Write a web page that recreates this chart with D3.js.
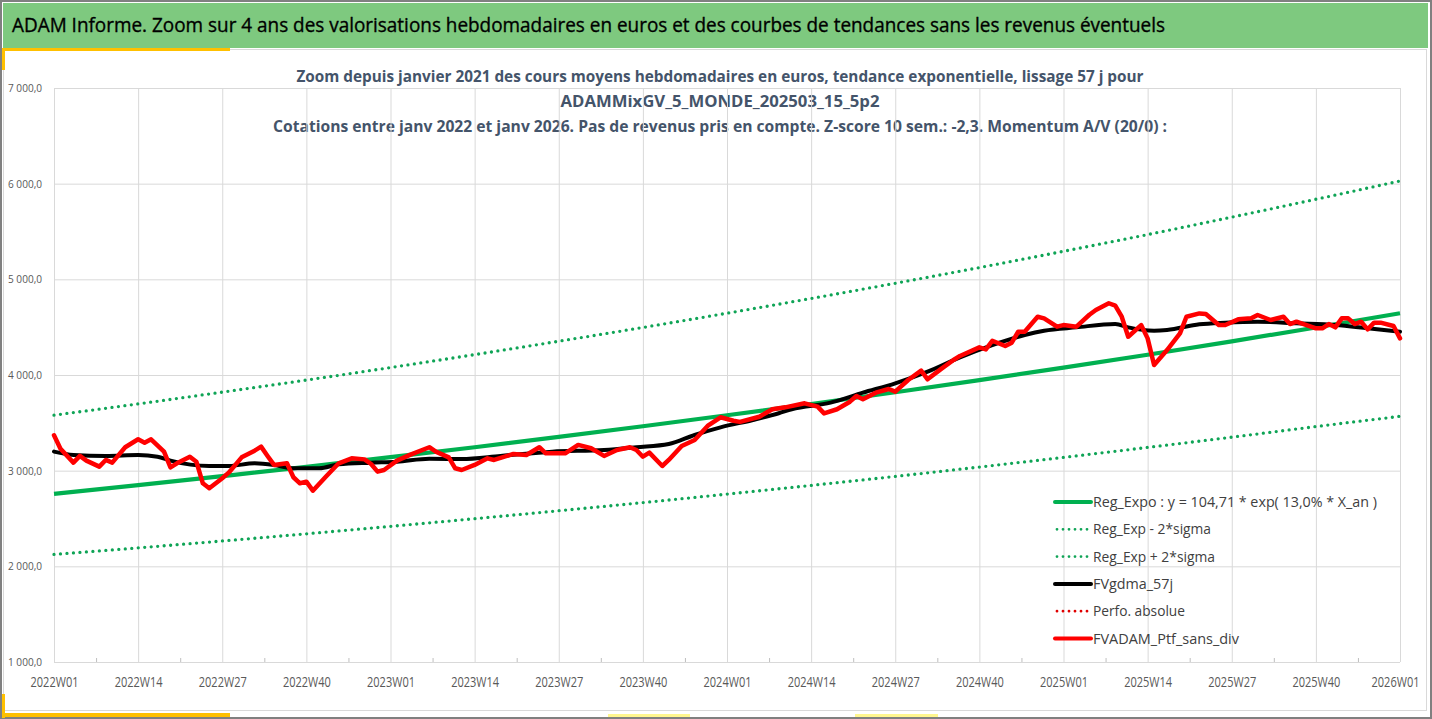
<!DOCTYPE html>
<html lang="fr">
<head>
<meta charset="utf-8">
<title>ADAM Informe</title>
<script src="https://cdn.jsdelivr.net/npm/d3@7"></script>
<style>
  body { margin: 0; background: #fff; }
  svg { display: block; font-family: 'Open Sans', 'Noto Sans', 'Liberation Sans', sans-serif; }
</style>
</head>
<body>
<svg id="chart" width="1432" height="719"></svg>
<script>
const titleText = 'ADAM Informe. Zoom sur 4 ans des valorisations hebdomadaires en euros et des courbes de tendances sans les revenus éventuels';
const subtitleLines = [
  'Zoom depuis janvier 2021 des cours moyens hebdomadaires  en euros, tendance exponentielle, lissage 57 j pour',
  'ADAMMixGV_5_MONDE_202503_15_5p2',
  'Cotations entre janv 2022 et janv 2026. Pas de revenus pris en compte. Z-score 10 sem.: -2,3. Momentum A/V (20/0) :'
];

// semaines depuis 2022W01 (0 .. 208)
const tickWeeks = [0, 13, 26, 39, 52, 65, 78, 91, 104, 117, 130, 143, 156, 169, 182, 195, 208];
const tickLabels = [
  '2022W01', '2022W14', '2022W27', '2022W40',
  '2023W01', '2023W14', '2023W27', '2023W40',
  '2024W01', '2024W14', '2024W27', '2024W40',
  '2025W01', '2025W14', '2025W27', '2025W40',
  '2026W01'
];
const yTicks = [1000, 2000, 3000, 4000, 5000, 6000, 7000];

// tendances lues aux semaines de tickWeeks
const regValues = [2757, 2848, 2943, 3040, 3141, 3245, 3353, 3464, 3579, 3697, 3820, 3946, 4077, 4212, 4352, 4496, 4645];
const lowValues = [2124, 2193, 2265, 2340, 2418, 2498, 2581, 2666, 2755, 2846, 2940, 3038, 3139, 3243, 3350, 3461, 3568];
const highValues = [3580, 3698, 3821, 3947, 4078, 4213, 4353, 4497, 4646, 4800, 4959, 5123, 5293, 5468, 5650, 5837, 6028];

// FVgdma_57j
const gdmaWeeks = [0, 3, 8, 13, 16, 18, 24, 27, 31, 34, 37, 41, 44, 49, 53, 58, 63, 69, 77, 85, 90, 95, 99, 103, 108, 112, 114, 120, 125, 130, 135, 140, 145, 150, 153, 158, 164, 166, 170, 172, 177, 181, 186, 192, 198, 203, 208];
const gdmaValues = [3199, 3164, 3154, 3164, 3146, 3105, 3049, 3049, 3077, 3060, 3025, 3025, 3067, 3084, 3094, 3125, 3122, 3154, 3199, 3216, 3245, 3279, 3373, 3453, 3530, 3600, 3642, 3711, 3815, 3913, 4035, 4185, 4313, 4418, 4463, 4498, 4533, 4498, 4463, 4470, 4530, 4547, 4557, 4540, 4522, 4488, 4452];

// FVADAM_Ptf_sans_div
const ptfWeeks = [0, 1, 3, 4, 5, 7, 8, 9, 11, 13, 14, 15, 17, 18, 19, 21, 22, 23, 24, 26, 27, 29, 31, 32, 33, 34, 36, 37, 38, 39, 40, 42, 44, 46, 48, 49, 50, 51, 53, 55, 58, 59, 61, 62, 63, 65, 67, 68, 71, 73, 75, 76, 79, 81, 83, 85, 87, 89, 90, 91, 92, 94, 95, 97, 99, 101, 103, 105, 106, 109, 111, 113, 116, 118, 119, 121, 123, 124, 125, 127, 129, 130, 132, 134, 135, 137, 139, 140, 143, 144, 145, 147, 148, 149, 150, 152, 153, 155, 156, 158, 160, 161, 163, 164, 165, 166, 168, 169, 170, 172, 174, 175, 177, 178, 180, 181, 183, 185, 186, 188, 190, 191, 192, 195, 196, 197, 198, 199, 200, 201, 202, 203, 204, 205, 207, 208];
const ptfValues = [3370, 3230, 3084, 3154, 3105, 3042, 3112, 3084, 3245, 3328, 3293, 3328, 3199, 3035, 3077, 3146, 3094, 2868, 2816, 2920, 2979, 3139, 3209, 3251, 3154, 3060, 3077, 2931, 2868, 2885, 2791, 2937, 3077, 3129, 3118, 3070, 2990, 3007, 3105, 3165, 3245, 3199, 3139, 3025, 3007, 3060, 3129, 3112, 3175, 3164, 3245, 3181, 3181, 3269, 3234, 3154, 3216, 3245, 3216, 3146, 3189, 3049, 3112, 3258, 3321, 3467, 3558, 3522, 3510, 3564, 3642, 3662, 3704, 3669, 3599, 3642, 3721, 3781, 3746, 3815, 3854, 3826, 3948, 4045, 3955, 4059, 4157, 4199, 4289, 4268, 4358, 4303, 4338, 4452, 4452, 4609, 4592, 4505, 4522, 4505, 4630, 4680, 4750, 4725, 4609, 4400, 4522, 4383, 4104, 4261, 4435, 4609, 4644, 4637, 4522, 4522, 4582, 4592, 4627, 4575, 4609, 4533, 4557, 4488, 4488, 4533, 4498, 4592, 4592, 4533, 4557, 4477, 4547, 4547, 4512, 4383];

const legendNames = [
  'Reg_Expo : y = 104,71 * exp( 13,0% *  X_an )',
  'Reg_Exp - 2*sigma',
  'Reg_Exp + 2*sigma',
  'FVgdma_57j',
  'Perfo. absolue',
  'FVADAM_Ptf_sans_div'
];

const width = 1432;
const height = 719;
const plot = { left: 54, right: 1400, top: 88, bottom: 662 };
const green = '#00B050';
const greenDot = '#0FA456';
const red = '#FF0000';

const svg = d3.select('#chart');

// FOND, BANDEAU, CADRES
svg.append('rect').attr('width', width).attr('height', height).attr('fill', '#fff');
svg.append('rect')
  .attr('x', 3).attr('y', 3).attr('width', 1425).attr('height', 45)
  .attr('fill', '#7EC97F');
svg.append('text')
  .attr('x', 12).attr('y', 32)
  .attr('font-size', 20)
  .attr('fill', '#000')
  .attr('stroke', '#000')
  .attr('stroke-width', 0.35)
  .attr('textLength', 1153)
  .attr('lengthAdjust', 'spacingAndGlyphs')
  .text(titleText);
svg.append('rect')
  .attr('x', 3.5).attr('y', 49.5).attr('width', 1423).attr('height', 661)
  .attr('fill', 'none').attr('stroke', '#D9D9D9');
svg.append('rect')
  .attr('x', 1).attr('y', 1).attr('width', 1430).attr('height', 717)
  .attr('fill', 'none').attr('stroke', '#808080').attr('stroke-width', 2);

// poignees de selection
[[2, 48, 228, 3], [2, 48, 3, 22], [2, 713, 228, 4], [2, 694, 3, 24]].forEach(r => {
  svg.append('rect').attr('x', r[0]).attr('y', r[1]).attr('width', r[2]).attr('height', r[3]).attr('fill', '#FFC000');
});
[[608, 714, 82, 3], [855, 714, 83, 3]].forEach(r => {
  svg.append('rect').attr('x', r[0]).attr('y', r[1]).attr('width', r[2]).attr('height', r[3]).attr('fill', '#FFF68F');
});

// SOUS-TITRES
const subtitleY = [82, 107, 132];
const subtitleLen = [847, 319, 894];
subtitleLines.forEach((t, i) => {
  svg.append('text')
    .attr('x', 720).attr('y', subtitleY[i])
    .attr('text-anchor', 'middle')
    .attr('font-size', 16)
    .attr('font-weight', 'bold')
    .attr('fill', '#44546A')
    .attr('textLength', subtitleLen[i])
    .attr('lengthAdjust', 'spacingAndGlyphs')
    .text(t);
});

// ECHELLES
const x = d3.scaleLinear().domain([0, 208]).range([plot.left, plot.right]);
const y = d3.scaleLinear().domain([1000, 7000]).range([plot.bottom, plot.top]);
const fr = d3.formatLocale({ decimal: ',', thousands: '\u00a0', grouping: [3], currency: ['', ' €'] });
const fmt = fr.format(',.1f');

// AXE Y + GRILLE
const yAxis = svg.append('g')
  .attr('transform', `translate(${plot.left},0)`)
  .call(d3.axisLeft(y).tickValues(yTicks).tickSize(-(plot.right - plot.left)).tickPadding(12).tickFormat(fmt));
yAxis.attr('font-family', null);
yAxis.select('.domain').remove();
yAxis.selectAll('line').attr('stroke', '#D9D9D9');
yAxis.selectAll('text').attr('fill', '#595959').attr('font-size', 11)
  .attr('textLength', 34).attr('lengthAdjust', 'spacingAndGlyphs');

// AXE X + GRILLE
const xAxis = svg.append('g')
  .attr('transform', `translate(0,${plot.bottom})`)
  .call(d3.axisBottom(x).tickValues(tickWeeks).tickSize(-(plot.bottom - plot.top)).tickPadding(15)
    .tickFormat((d, i) => tickLabels[i]));
xAxis.attr('font-family', null);
xAxis.select('.domain').remove();
xAxis.selectAll('line').attr('stroke', '#D9D9D9');
xAxis.selectAll('text').attr('fill', '#595959').attr('font-size', 14)
  .attr('textLength', 48).attr('lengthAdjust', 'spacingAndGlyphs');
// dernier libelle un peu rentre pour rester dans le cadre
xAxis.selectAll('.tick:last-of-type text').attr('dx', -5);

const minorAxis = svg.append('g')
  .attr('transform', `translate(0,${plot.bottom})`)
  .call(d3.axisBottom(x).tickValues(tickWeeks.slice(1).map(w => w - 6.5)).tickSize(-4).tickFormat(''));
minorAxis.select('.domain').remove();
minorAxis.selectAll('line').attr('stroke', '#BFBFBF');

// COURBES
const trendLine = values => d3.line()
  .x((d, i) => x(tickWeeks[i]))
  .y(d => y(d))
  .curve(d3.curveMonotoneX)(values);

const seriesLine = (weeks, values, curve) => d3.line()
  .x(d => x(d[0]))
  .y(d => y(d[1]))
  .curve(curve)(d3.zip(weeks, values));

svg.append('path')
  .attr('d', trendLine(highValues))
  .attr('fill', 'none').attr('stroke', greenDot).attr('stroke-width', 3.3)
  .attr('stroke-linecap', 'round').attr('stroke-dasharray', '0 6.5');
svg.append('path')
  .attr('d', trendLine(lowValues))
  .attr('fill', 'none').attr('stroke', greenDot).attr('stroke-width', 3.3)
  .attr('stroke-linecap', 'round').attr('stroke-dasharray', '0 6.5');
svg.append('path')
  .attr('d', trendLine(regValues))
  .attr('fill', 'none').attr('stroke', green).attr('stroke-width', 4.2)
  .attr('stroke-linejoin', 'round');
svg.append('path')
  .attr('d', seriesLine(gdmaWeeks, gdmaValues, d3.curveMonotoneX))
  .attr('fill', 'none').attr('stroke', '#000').attr('stroke-width', 4)
  .attr('stroke-linejoin', 'round').attr('stroke-linecap', 'round');
svg.append('path')
  .attr('d', seriesLine(ptfWeeks, ptfValues, d3.curveLinear))
  .attr('fill', 'none').attr('stroke', red).attr('stroke-width', 4.5)
  .attr('stroke-linejoin', 'round').attr('stroke-linecap', 'round');

// LEGENDE
const legendStyles = [
  { color: green, dash: null, len: 284 },
  { color: greenDot, dash: '0 6', len: 118 },
  { color: greenDot, dash: '0 6', len: 122 },
  { color: '#000', dash: null, len: 80 },
  { color: '#E00000', dash: '0 6', len: 92 },
  { color: red, dash: null, len: 146 }
];
const legend = svg.append('g').attr('transform', 'translate(1055,502)');
legendNames.forEach((name, i) => {
  const st = legendStyles[i];
  const ly = i * 27.3;
  legend.append('line')
    .attr('x1', st.dash ? 2 : 0).attr('x2', 36)
    .attr('y1', ly).attr('y2', ly)
    .attr('stroke', st.color)
    .attr('stroke-width', st.dash ? 2.8 : 4)
    .attr('stroke-linecap', 'round')
    .attr('stroke-dasharray', st.dash);
  legend.append('text')
    .attr('x', 38).attr('y', ly + 5)
    .attr('font-size', 14.5)
    .attr('fill', '#404040')
    .attr('textLength', st.len)
    .attr('lengthAdjust', 'spacingAndGlyphs')
    .text(name);
});
</script>
</body>
</html>
